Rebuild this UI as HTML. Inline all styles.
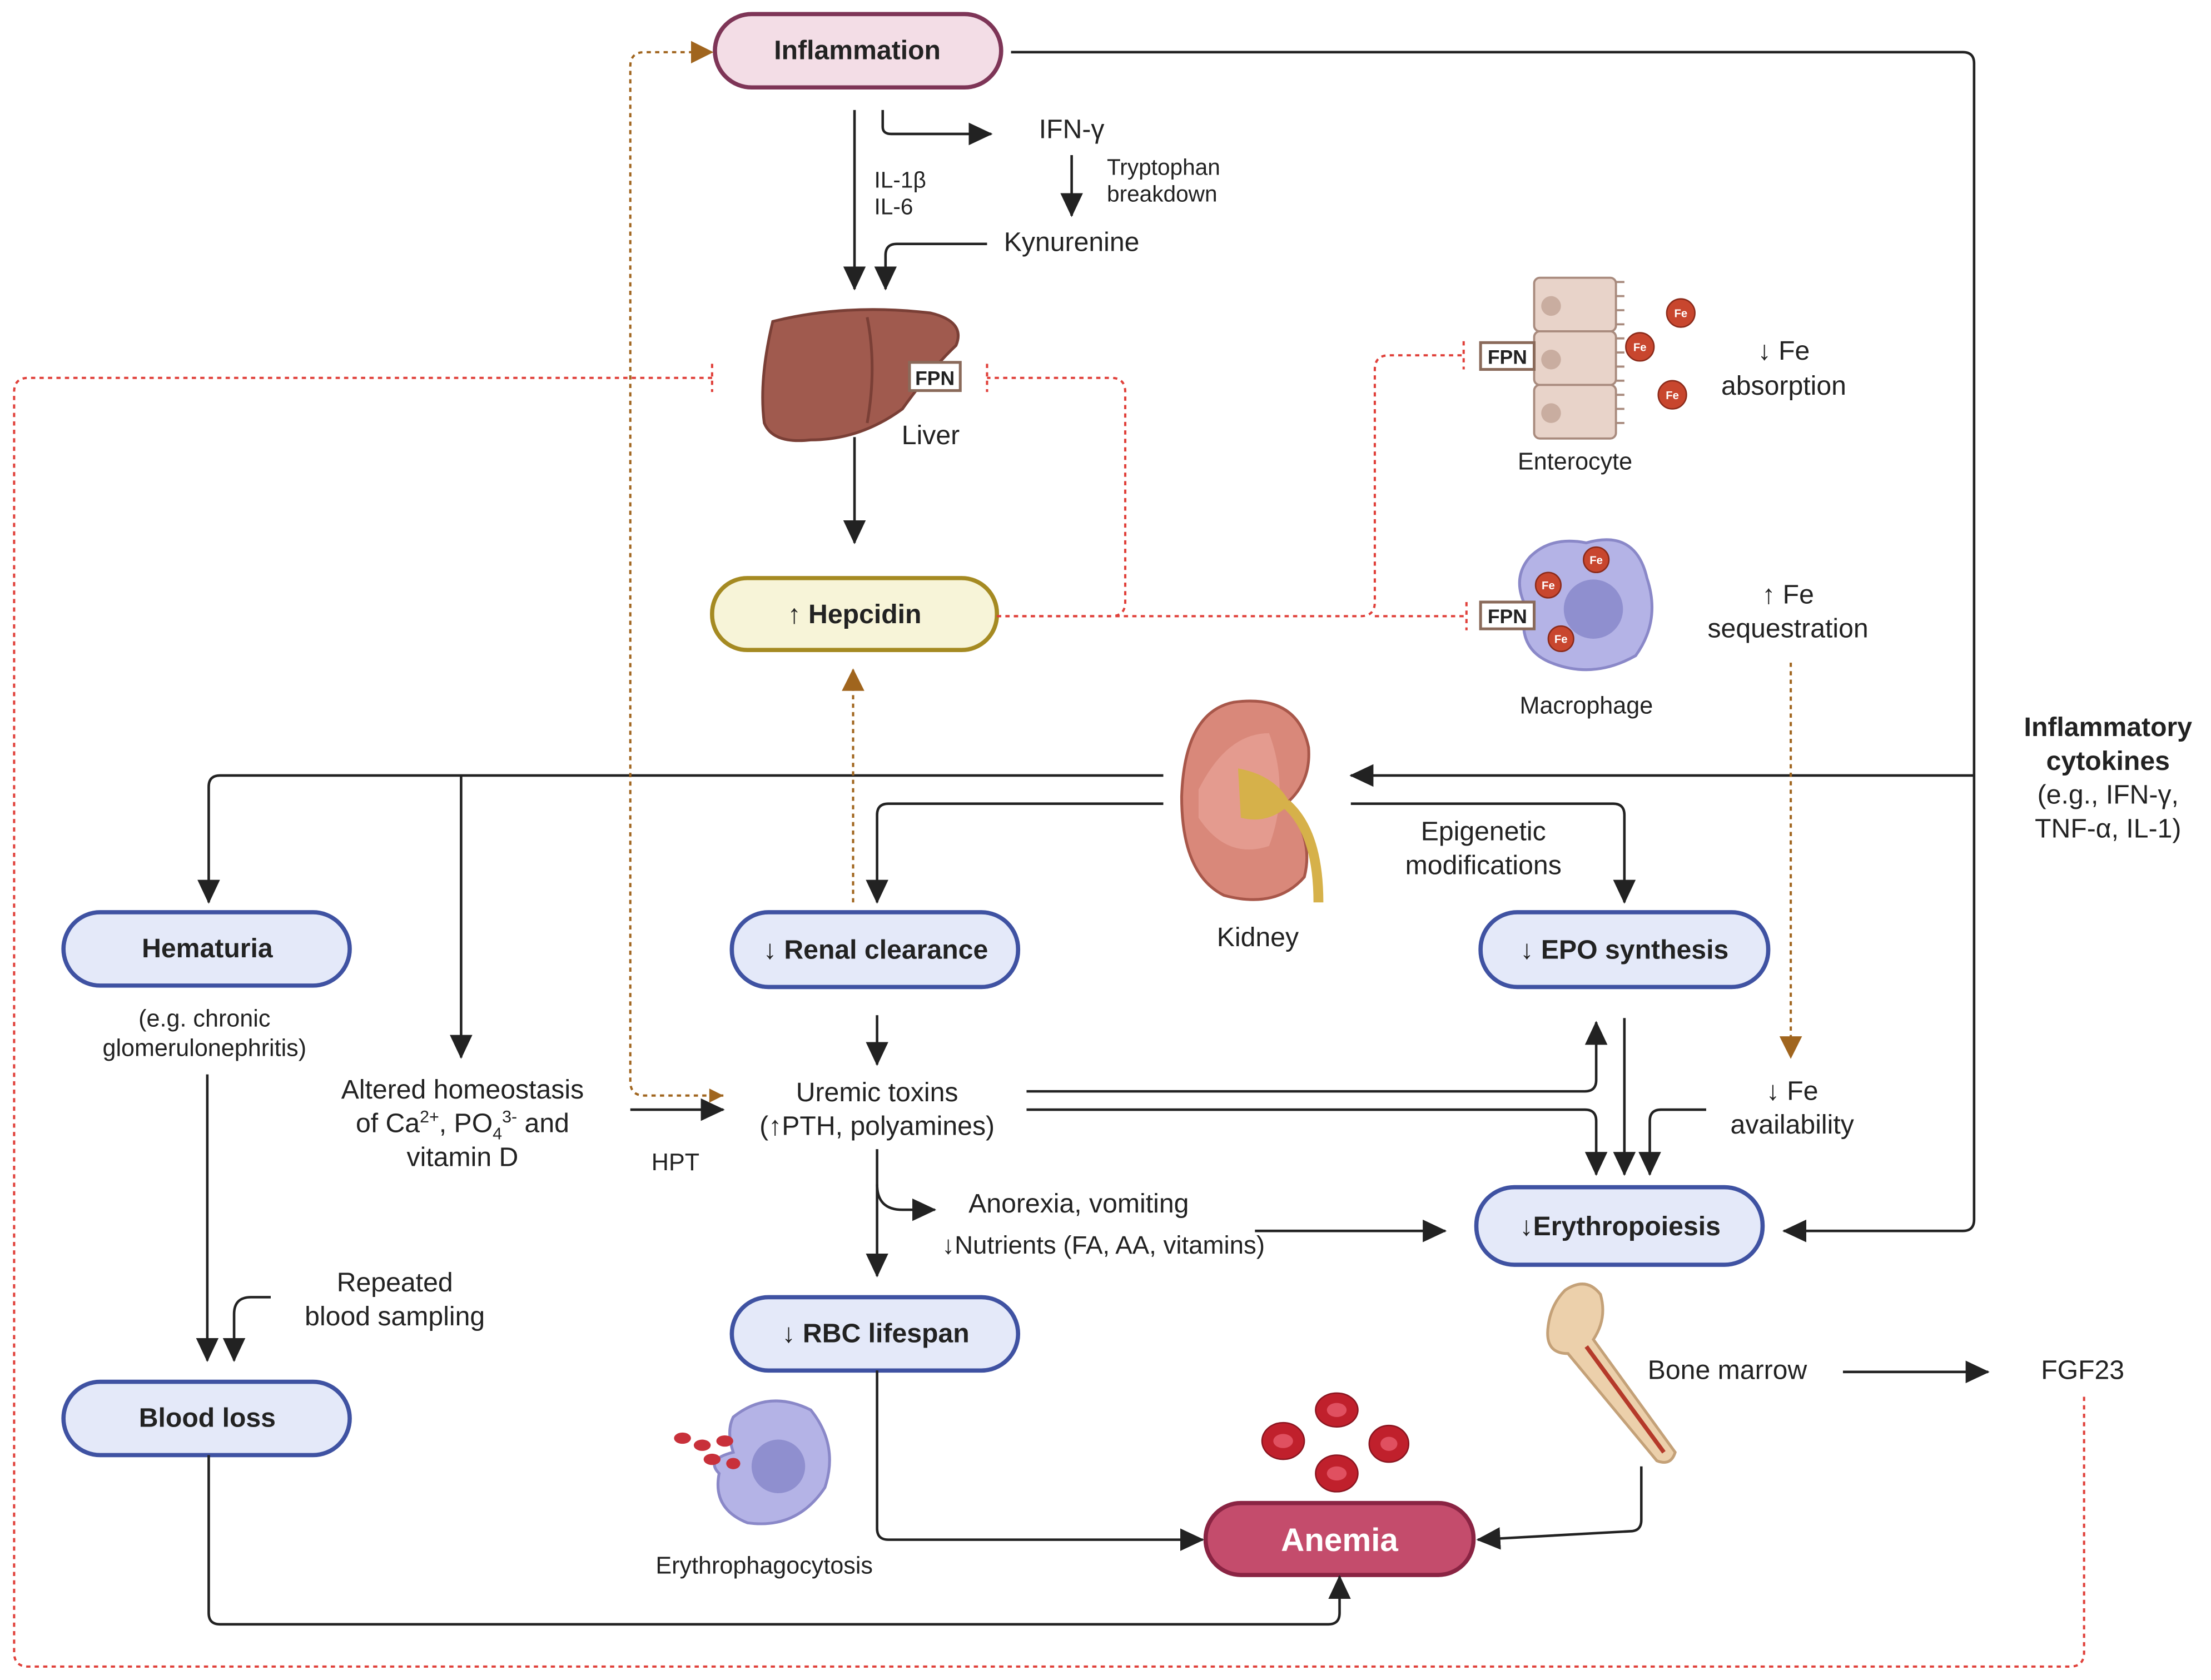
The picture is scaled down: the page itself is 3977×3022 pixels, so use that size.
<!DOCTYPE html>
<html><head><meta charset="utf-8"><style>
html,body{margin:0;padding:0;background:#fff}
svg{display:block}
text{font-family:"Liberation Sans",sans-serif;fill:#222}
.t{font-size:19px;text-anchor:middle}
.s{font-size:16px}
.b{font-weight:bold;font-size:19px;text-anchor:middle}
.l{fill:none;stroke:#222;stroke-width:1.8}
.r{fill:none;stroke:#e0403a;stroke-width:1.6;stroke-dasharray:3 3}
.o{fill:none;stroke:#a0651e;stroke-width:1.6;stroke-dasharray:3 3}
.bp{fill:#e4e9f9;stroke:#3f52a2;stroke-width:3}
</style></head><body>
<svg width="3977" height="3022" viewBox="0 0 1568 1191.5" xmlns="http://www.w3.org/2000/svg">
<defs>
<marker id="ao" markerWidth="16" markerHeight="16" refX="15" refY="8" orient="auto" markerUnits="userSpaceOnUse" viewBox="0 0 16 16"><path d="M0,0 L16,8 L0,16z" fill="#a0651e"/></marker>
<marker id="ab" markerWidth="18" markerHeight="18" refX="16" refY="9" orient="auto" markerUnits="userSpaceOnUse" viewBox="0 0 18 18"><path d="M0,1 L17,9 L0,17z" fill="#222"/></marker>
</defs>
<g>
<rect x="507" y="10" width="203" height="52" rx="26" fill="#f3dde6" stroke="#7e3557" stroke-width="3"/>
<text class="b" x="608" y="42">Inflammation</text>
<rect x="505" y="410" width="202" height="51" rx="25" fill="#f7f4d8" stroke="#a58a22" stroke-width="3"/>
<text class="b" x="606" y="442">↑ Hepcidin</text>
<rect class="bp" x="45" y="647" width="203" height="52" rx="26"/><text class="b" x="147" y="679">Hematuria</text>
<rect class="bp" x="519" y="647" width="203" height="53" rx="26"/><text class="b" x="621" y="680">↓ Renal clearance</text>
<rect class="bp" x="1050" y="647" width="204" height="53" rx="26"/><text class="b" x="1152" y="680">↓ EPO synthesis</text>
<rect class="bp" x="1047" y="842" width="203" height="55" rx="27"/><text class="b" x="1149" y="876">↓Erythropoiesis</text>
<rect class="bp" x="519" y="920" width="203" height="52" rx="26"/><text class="b" x="621" y="952">↓ RBC lifespan</text>
<rect class="bp" x="45" y="980" width="203" height="52" rx="26"/><text class="b" x="147" y="1012">Blood loss</text>
<rect x="855" y="1066" width="190" height="51" rx="25" fill="#c44c6c" stroke="#8a2443" stroke-width="3"/>
<text class="b" x="950" y="1100" style="fill:#fff;font-size:23px">Anemia</text>

<path class="l" d="M717,37 H1392 Q1400,37 1400,45 V865 Q1400,873 1392,873 H1265" marker-end="url(#ab)"/>
<path class="l" d="M1400,550 H958" marker-end="url(#ab)"/>
<path class="l" d="M606,78 V205" marker-end="url(#ab)"/>
<path class="l" d="M626,78 V90 Q626,95 632,95 H703" marker-end="url(#ab)"/>
<path class="l" d="M760,110 V153" marker-end="url(#ab)"/>
<path class="l" d="M700,173 H636 Q628,173 628,181 V205" marker-end="url(#ab)"/>
<path class="l" d="M606,310 V385" marker-end="url(#ab)"/>
<path class="l" d="M825,550 H156 Q148,550 148,558 V640" marker-end="url(#ab)"/>
<path class="l" d="M327,550 V750" marker-end="url(#ab)"/>
<path class="l" d="M825,570 H630 Q622,570 622,578 V640" marker-end="url(#ab)"/>
<path class="l" d="M958,570 H1144 Q1152,570 1152,578 V640" marker-end="url(#ab)"/>
<path class="l" d="M622,720 V755" marker-end="url(#ab)"/>
<path class="l" d="M447,787 H513" marker-end="url(#ab)"/>
<path class="l" d="M728,774 H1124 Q1132,774 1132,766 V725" marker-end="url(#ab)"/>
<path class="l" d="M728,787 H1124 Q1132,787 1132,795 V833" marker-end="url(#ab)"/>
<path class="l" d="M1152,722 V833" marker-end="url(#ab)"/>
<path class="l" d="M1210,787 H1178 Q1170,787 1170,795 V833" marker-end="url(#ab)"/>
<path class="l" d="M622,815 V905" marker-end="url(#ab)"/>
<path class="l" d="M622,840 Q622,858 640,858 H663" marker-end="url(#ab)"/>
<path class="l" d="M890,873 H1025" marker-end="url(#ab)"/>
<path class="l" d="M1307,973 H1410" marker-end="url(#ab)"/>
<path class="l" d="M1164,1040 V1078 Q1164,1086 1156,1086 L1048,1092" marker-end="url(#ab)"/>
<path class="l" d="M622,972 V1084 Q622,1092 630,1092 H853" marker-end="url(#ab)"/>
<path class="l" d="M148,1032 V1144 Q148,1152 156,1152 H942 Q950,1152 950,1144 V1118" marker-end="url(#ab)"/>
<path class="l" d="M147,762 V965" marker-end="url(#ab)"/>
<path class="l" d="M192,920 H178 Q166,920 166,932 V965" marker-end="url(#ab)"/>

<path class="r" d="M505,268 H20 Q10,268 10,278 V1172 Q10,1182 20,1182 H1468 Q1478,1182 1478,1172 V990"/>
<path class="r" d="M505,258 V278 M700,258 V278"/>
<path class="r" d="M707,437 H788 Q798,437 798,427 V278 Q798,268 788,268 H700"/>
<path class="r" d="M707,437 H965 Q975,437 975,427 V262 Q975,252 985,252 H1038 M1038,242 V262"/>
<path class="r" d="M975,437 H1040 M1040,427 V447"/>

<path class="o" d="M1270,470 V750" marker-end="url(#ao)"/>
<path class="o" d="M605,640 V475" marker-end="url(#ao)"/>
<path class="o" d="M513,777 H457 Q447,777 447,767 V47 Q447,37 457,37 H505" marker-end="url(#ao)"/>
<path d="M503,772 L513,777 L503,782z" fill="#a0651e"/>

<path d="M548,228 Q600,215 660,222 Q685,228 678,245 Q660,262 640,290 Q610,312 575,312 Q548,315 542,300 Q538,270 548,228z" fill="#a05a4e" stroke="#7a3f36" stroke-width="2"/>
<path d="M615,225 Q622,260 615,300" stroke="#7a3f36" fill="none" stroke-width="2"/>
<rect x="645" y="257" width="36" height="20" fill="#fff" stroke="#8a6a5a" stroke-width="2"/>
<text x="663" y="273" style="font-size:14px;font-weight:bold;text-anchor:middle">FPN</text>

<g fill="#e8d3c9" stroke="#a88a7d" stroke-width="1.5">
<rect x="1088" y="197" width="58" height="38" rx="4"/><rect x="1088" y="235" width="58" height="38" rx="4"/><rect x="1088" y="273" width="58" height="38" rx="4"/>
</g>
<g fill="#c9ada0"><circle cx="1100" cy="217" r="7"/><circle cx="1100" cy="255" r="7"/><circle cx="1100" cy="293" r="7"/></g>
<path d="M1146,200 h6 M1146,210 h6 M1146,220 h6 M1146,230 h6 M1146,240 h6 M1146,250 h6 M1146,260 h6 M1146,270 h6 M1146,280 h6 M1146,290 h6 M1146,300 h6" stroke="#a88a7d" stroke-width="1.5"/>
<rect x="1050" y="243" width="38" height="19" fill="#fff" stroke="#8a6a5a" stroke-width="2"/>
<text x="1069" y="258" style="font-size:14px;font-weight:bold;text-anchor:middle">FPN</text>
<g fill="#c8462e" stroke="#8a2a1a"><circle cx="1192" cy="222" r="10"/><circle cx="1163" cy="246" r="10"/><circle cx="1186" cy="280" r="10"/></g>
<g style="font-size:8px;text-anchor:middle;font-weight:bold"><text x="1192" y="225" style="fill:#fff">Fe</text><text x="1163" y="249" style="fill:#fff">Fe</text><text x="1186" y="283" style="fill:#fff">Fe</text></g>

<path d="M1085,395 Q1100,380 1125,385 Q1160,375 1168,410 Q1178,440 1160,465 Q1130,482 1100,470 Q1075,460 1082,430 Q1072,410 1085,395z" fill="#b4b3e6" stroke="#8a88c8" stroke-width="2"/>
<circle cx="1130" cy="432" r="21" fill="#8f8fcf"/>
<rect x="1050" y="427" width="38" height="19" fill="#fff" stroke="#8a6a5a" stroke-width="2"/>
<text x="1069" y="442" style="font-size:14px;font-weight:bold;text-anchor:middle">FPN</text>
<g fill="#c8462e" stroke="#8a2a1a"><circle cx="1132" cy="397" r="9"/><circle cx="1098" cy="415" r="9"/><circle cx="1107" cy="453" r="9"/></g>
<g style="font-size:8px;text-anchor:middle;font-weight:bold"><text x="1132" y="400" style="fill:#fff">Fe</text><text x="1098" y="418" style="fill:#fff">Fe</text><text x="1107" y="456" style="fill:#fff">Fe</text></g>

<path d="M875,498 Q920,492 928,530 Q930,555 912,570 Q932,595 925,622 Q905,645 868,635 Q838,620 838,565 Q840,505 875,498z" fill="#d9887a" stroke="#a8574a" stroke-width="2"/>
<path d="M850,560 Q870,520 900,520 Q915,560 900,600 Q870,610 850,580z" fill="#e8a498" opacity="0.7"/>
<path d="M912,570 Q935,590 935,640" stroke="#d6b14a" stroke-width="7" fill="none"/>
<path d="M878,545 Q905,550 915,570 Q900,585 880,580z" fill="#d6b14a"/>

<path d="M520,1005 Q545,985 575,1000 Q595,1025 585,1055 Q565,1085 530,1080 Q505,1070 510,1045 Q500,1035 520,1030 Q515,1015 520,1005z" fill="#b4b3e6" stroke="#8a88c8" stroke-width="2"/>
<circle cx="552" cy="1040" r="19" fill="#8f8fcf"/>
<g fill="#c8303a"><ellipse cx="484" cy="1020" rx="6" ry="4"/><ellipse cx="498" cy="1025" rx="6" ry="4"/><ellipse cx="514" cy="1022" rx="6" ry="4"/><ellipse cx="505" cy="1035" rx="6" ry="4"/><ellipse cx="520" cy="1038" rx="5" ry="4"/></g>

<g fill="#c0202c" stroke="#8a1520"><ellipse cx="910" cy="1022" rx="15" ry="13"/><ellipse cx="948" cy="1000" rx="15" ry="12"/><ellipse cx="985" cy="1024" rx="14" ry="13"/><ellipse cx="948" cy="1045" rx="15" ry="13"/></g>
<g fill="#e05060"><ellipse cx="910" cy="1022" rx="7" ry="5"/><ellipse cx="948" cy="1000" rx="7" ry="5"/><ellipse cx="985" cy="1024" rx="6" ry="5"/><ellipse cx="948" cy="1045" rx="7" ry="5"/></g>

<path d="M1110,915 Q1125,905 1135,918 Q1140,935 1130,950 L1188,1030 Q1185,1040 1175,1036 L1112,960 Q1095,960 1098,940 Q1100,925 1110,915z" fill="#ecd0ab" stroke="#c4a178" stroke-width="2"/>
<path d="M1125,955 L1180,1030" stroke="#b53a2a" stroke-width="3"/>

<text x="620" y="133" class="s">IL-1β</text><text x="620" y="152" class="s">IL-6</text>
<text class="t" x="760" y="98">IFN-γ</text>
<text x="785" y="124" class="s">Tryptophan</text><text x="785" y="143" class="s">breakdown</text>
<text class="t" x="760" y="178">Kynurenine</text>
<text class="t" x="660" y="315">Liver</text>
<text class="t" x="1265" y="255">↓ Fe</text><text class="t" x="1265" y="280">absorption</text>
<text class="t" x="1117" y="333" style="font-size:17px">Enterocyte</text>
<text class="t" x="1268" y="428">↑ Fe</text><text class="t" x="1268" y="452">sequestration</text>
<text class="t" x="1125" y="506" style="font-size:17px">Macrophage</text>
<text class="b" x="1495" y="522">Inflammatory</text><text class="b" x="1495" y="546">cytokines</text>
<text class="t" x="1495" y="570">(e.g., IFN-γ,</text><text class="t" x="1495" y="594">TNF-α, IL-1)</text>
<text class="t" x="1052" y="596">Epigenetic</text><text class="t" x="1052" y="620">modifications</text>
<text class="t" x="892" y="671">Kidney</text>
<text class="t" x="145" y="728" style="font-size:17px">(e.g. chronic</text><text class="t" x="145" y="749" style="font-size:17px">glomerulonephritis)</text>
<text class="t" x="328" y="779">Altered homeostasis</text>
<text class="t" x="328" y="803">of Ca<tspan dy="-7" style="font-size:12px">2+</tspan><tspan dy="7">, PO</tspan><tspan dy="5" style="font-size:12px">4</tspan><tspan dy="-12" style="font-size:12px">3-</tspan><tspan dy="7"> and</tspan></text>
<text class="t" x="328" y="827">vitamin D</text>
<text class="t" x="479" y="830" style="font-size:17px">HPT</text>
<text class="t" x="622" y="781">Uremic toxins</text><text class="t" x="622" y="805">(↑PTH, polyamines)</text>
<text class="t" x="1271" y="780">↓ Fe</text><text class="t" x="1271" y="804">availability</text>
<text class="t" x="765" y="860">Anorexia, vomiting</text>
<text x="668" y="889" style="font-size:18px">↓Nutrients (FA, AA, vitamins)</text>
<text class="t" x="280" y="916">Repeated</text><text class="t" x="280" y="940">blood sampling</text>
<text class="t" x="1225" y="978">Bone marrow</text>
<text class="t" x="1477" y="978">FGF23</text>
<text class="t" x="542" y="1116" style="font-size:17px">Erythrophagocytosis</text>
</g>
</svg>
</body></html>
